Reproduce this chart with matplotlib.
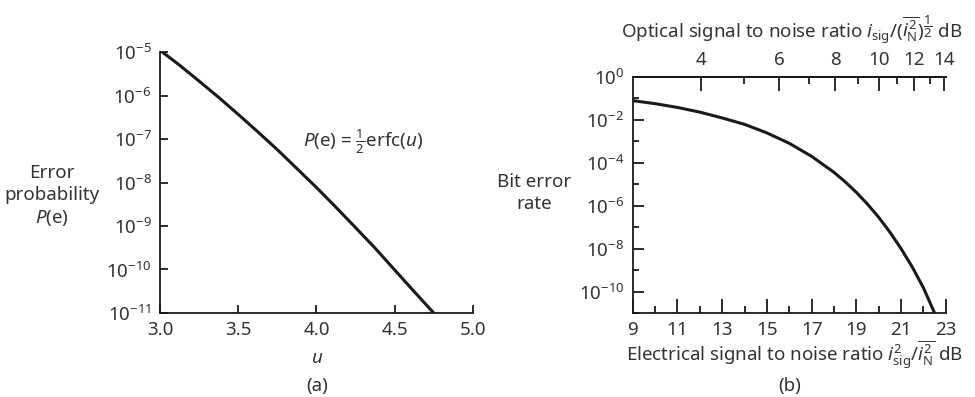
import numpy as np
import matplotlib
matplotlib.use("Agg")
import matplotlib.pyplot as plt
from matplotlib.ticker import FixedLocator, NullFormatter, FixedFormatter

plt.rcParams['font.family'] = ['Noto Sans', 'DejaVu Sans']
plt.rcParams['mathtext.fontset'] = 'custom'
plt.rcParams['mathtext.rm'] = 'Noto Sans'
plt.rcParams['mathtext.it'] = 'Noto Sans:italic'
plt.rcParams['mathtext.bf'] = 'Noto Sans:bold'
plt.rcParams['font.size'] = 13.5

TXT = '#333333'
LINE = '#1a1a1a'

# (a) error probability vs u
u_vals = [3.0, 3.125, 3.25, 3.375, 3.5, 3.625, 3.75, 3.875, 4.0,
          4.125, 4.25, 4.375, 4.5, 4.625, 4.75]
pe_vals = [1.1e-5, 5.0e-6, 2.15e-6, 9.1e-7, 3.7e-7, 1.47e-7, 5.7e-8, 2.1e-8, 7.7e-9,
           2.7e-9, 9.2e-10, 3.1e-10, 9.8e-11, 3.1e-11, 1.0e-11]

# (b) bit error rate vs electrical SNR (dB)
snr_db = [9, 10, 11, 12, 13, 14, 15, 16, 17, 18, 18.5, 19, 19.5, 20,
          20.5, 21, 21.5, 22, 22.5]
ber = [0.079, 0.057, 0.038, 0.023, 0.0123, 0.0062, 0.00247, 8.1e-4, 2.0e-4, 3.6e-5,
       1.3e-5, 4.2e-6, 1.18e-6, 2.9e-7, 5.9e-8, 1.0e-8, 1.4e-9, 1.5e-10, 1.0e-11]

opt_major = [4, 6, 8, 10, 12, 14]
opt_minor = [5, 7, 9, 11, 13]

fig = plt.figure(figsize=(9.75, 3.97), dpi=100)

# ---- panel (a)
ax1 = fig.add_axes([0.164, 0.2116, 0.321, 0.6574])
ax1.semilogy(u_vals, pe_vals, color=LINE, lw=2.2)
ax1.set_xlim(3.0, 5.0)
ax1.set_ylim(1e-11, 1e-5)
ax1.set_xticks([3.0, 3.5, 4.0, 4.5, 5.0])
ax1.set_xticklabels(['3.0', '3.5', '4.0', '4.5', '5.0'])
ax1.yaxis.set_major_locator(FixedLocator([10.0**k for k in range(-11, -4)]))
ax1.yaxis.set_minor_locator(FixedLocator([]))
for s in ['top', 'right']:
    ax1.spines[s].set_visible(False)
for s in ['left', 'bottom']:
    ax1.spines[s].set_linewidth(1.3)
    ax1.spines[s].set_color(LINE)
ax1.tick_params(direction='in', length=6, width=1.3, colors=LINE, labelcolor=TXT, pad=6)
fig.text(303 / 975, 1 - 142 / 397, r'$P$(e) = $\frac{1}{2}$erfc($u$)', color=TXT,
         ha='left', va='center')
fig.text(52 / 975, 1 - 196 / 397, 'Error\nprobability\n$P$(e)', ha='center', va='center',
         color=TXT, linespacing=1.3)
fig.text(317 / 975, 1 - 358 / 397, '$u$', ha='center', va='center', color=TXT)
fig.text(317 / 975, 1 - 386 / 397, '(a)', ha='center', va='center', color=TXT)

# ---- panel (b)
ax2 = fig.add_axes([0.649, 0.2116, 0.321, 0.5945])
ax2.semilogy(snr_db, ber, color=LINE, lw=2.2)
ax2.set_xlim(9, 23)
ax2.set_ylim(1e-11, 1)
ax2.set_xticks([9, 11, 13, 15, 17, 19, 21, 23])
ax2.set_xticks([10, 12, 14, 16, 18, 20, 22], minor=True)
ax2.yaxis.set_major_locator(FixedLocator([10.0**k for k in range(-10, 1, 2)]))
ax2.yaxis.set_minor_locator(FixedLocator([10.0**k for k in range(-11, 0, 2)]))
ax2.yaxis.set_minor_formatter(NullFormatter())
ax2.spines['right'].set_visible(False)
for s in ['left', 'bottom', 'top']:
    ax2.spines[s].set_linewidth(1.3)
    ax2.spines[s].set_color(LINE)
ax2.tick_params(which='major', direction='in', width=1.3, colors=LINE, labelcolor=TXT, pad=6)
ax2.tick_params(axis='x', which='major', length=10)
ax2.tick_params(axis='x', which='minor', direction='in', length=5, width=1.3, colors=LINE)
ax2.tick_params(axis='y', which='major', length=8)
ax2.tick_params(axis='y', which='minor', direction='in', length=4, width=1.3, colors=LINE)

top = ax2.secondary_xaxis('top', functions=(lambda x: 10 ** (np.asarray(x) / 20.0),
                                            lambda q: 20 * np.log10(np.asarray(q))))
top.xaxis.set_major_locator(FixedLocator(opt_major))
top.xaxis.set_major_formatter(FixedFormatter([str(v) for v in opt_major]))
top.xaxis.set_minor_locator(FixedLocator(opt_minor))
top.xaxis.set_minor_formatter(NullFormatter())
top.spines['top'].set_linewidth(1.3)
top.tick_params(which='major', direction='in', length=10, width=1.3, colors=LINE,
                labelcolor=TXT, pad=6)
top.tick_params(which='minor', direction='in', length=5, width=1.3, colors=LINE)

fig.text(963 / 975, 1 - 355 / 397,
         r'Electrical signal to noise ratio $i^{2}_{\mathrm{sig}}/\overline{i^{2}_{\mathrm{N}}}$ dB',
         ha='right', va='center', color=TXT)
fig.text(963 / 975, 1 - 30 / 397,
         r'Optical signal to noise ratio $i_{\mathrm{sig}}/(\overline{i^{2}_{\mathrm{N}}})^{\dfrac{1}{2}}$ dB',
         ha='right', va='center', color=TXT)
fig.text(534 / 975, 1 - 193 / 397, 'Bit error\nrate', ha='center', va='center',
         color=TXT, linespacing=1.3)
fig.text(790 / 975, 1 - 386 / 397, '(b)', ha='center', va='center', color=TXT)

fig.savefig('out.png', dpi=100)
